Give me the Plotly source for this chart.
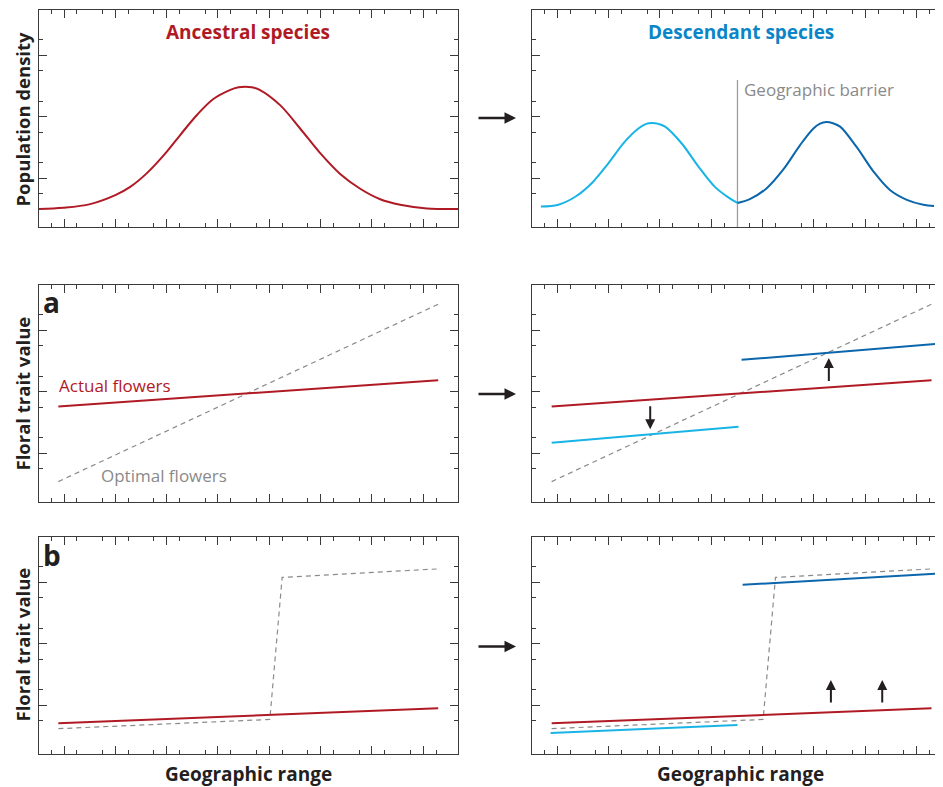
import plotly.graph_objects as go

# ---------------- data ----------------
X_MAJOR = [1, 2, 3, 4, 5, 6, 7, 8]
X_MINOR = [0.75, 1.25, 1.75, 2.25, 2.75, 3.25, 3.75, 4.25, 4.75, 5.25,
           5.75, 6.25, 6.75, 7.25, 7.75, 8.25]
Y_MAJOR = [1, 2, 3]
Y_MINOR = [0.75, 1.25, 1.75, 2.25, 2.75, 3.25]

# ancestral population density
anc_x = [0.51, 0.99, 1.51, 2.01, 2.29, 2.61, 3.0, 3.26, 3.59, 3.91, 4.23, 4.40, 4.53,
         4.66, 4.82, 5.21, 5.60, 5.99, 6.38, 6.77, 7.16, 7.55, 8.07, 8.68]
anc_y = [0.50, 0.52, 0.58, 0.73, 0.86, 1.08, 1.43, 1.70, 2.03, 2.29, 2.435, 2.48, 2.49,
         2.48, 2.435, 2.19, 1.81, 1.41, 1.07, 0.83, 0.66, 0.57, 0.51, 0.50]

# descendant population densities
desc1_x = [0.68, 1.02, 1.35, 1.67, 1.99, 2.32, 2.58, 2.72, 2.84, 2.97, 3.10, 3.42, 3.75, 4.07, 4.33, 4.51]
desc1_y = [0.54, 0.57, 0.70, 0.92, 1.24, 1.60, 1.81, 1.88, 1.90, 1.885, 1.84, 1.57, 1.19, 0.86, 0.69, 0.60]
desc2_x = [4.51, 4.75, 5.08, 5.40, 5.73, 5.99, 6.12, 6.24, 6.37, 6.51, 6.83, 7.16, 7.48, 7.81, 8.13, 8.34]
desc2_y = [0.60, 0.66, 0.84, 1.14, 1.54, 1.81, 1.89, 1.915, 1.895, 1.84, 1.51, 1.11, 0.81, 0.65, 0.57, 0.55]
barrier_x = [4.51, 4.51]
barrier_y = [0.208, 2.60]

# panel a
a_actual_x = [0.89, 8.29]
a_actual_y = [1.76, 2.19]
a_optimal_x = [0.89, 8.33]
a_optimal_y = [0.54, 3.44]
a_light_x = [0.89, 4.53]
a_light_y = [1.17, 1.43]
a_dark_x = [4.59, 8.38]
a_dark_y = [2.52, 2.78]
a_arrow_x = [2.81, 6.29]
a_arrow_from = [1.79, 2.15]
a_arrow_to = [1.39, 2.55]

# panel b
b_actual_x = [0.89, 8.29]
b_actual_y = [0.71, 0.95]
b_optimal_x = [0.89, 5.01, 5.25, 8.33]
b_optimal_y = [0.62, 0.77, 3.08, 3.22]
b_light_x = [0.87, 4.51]
b_light_y = [0.55, 0.68]
b_dark_x = [4.61, 8.39]
b_dark_y = [2.96, 3.14]
b_arrow_x = [6.33, 7.33]
b_arrow_from = [1.02, 1.02]
b_arrow_to = [1.41, 1.41]

# ---------------- styles ----------------
RED = '#b01a25'
LIGHT = '#19b4e6'
DARK = '#0b66ab'
TITLE_BLUE = '#0a85c7'
GRAY = '#8a8a8a'
AXC = '#3a3a3a'
FONT = 'Open Sans'

# page body has an 8px margin: size the figure so it ends at the window edge
OFF = 8
W, H = 943 - OFF, 787 - OFF
def px(v): return (v - OFF) / W
def py(v): return 1 - (v - OFF) / H

LEFT_DOM = [px(39), px(458)]
RIGHT_DOM = [px(532), 1.0]
ROWS = [[py(227), py(10)], [py(502), py(285)], [py(754), py(537)]]
X_RANGE_L = [0.513, 8.676]
X_RANGE_R = [0.507, 8.514]
Y_RANGE = [0.208, 3.737]

fig = go.Figure()

def axes_layout():
    lay = {}
    k = 1
    for r in range(3):
        for c in range(2):
            sx = '' if k == 1 else str(k)
            lay['xaxis' + sx] = dict(
                domain=LEFT_DOM if c == 0 else RIGHT_DOM,
                range=X_RANGE_L if c == 0 else X_RANGE_R,
                anchor='y' + sx, tickmode='array', tickvals=X_MAJOR,
                showticklabels=False, ticks='inside', ticklen=8, tickwidth=1.2,
                tickcolor=AXC,
                minor=dict(tickmode='array', tickvals=X_MINOR, ticks='inside',
                           ticklen=4, tickwidth=1.1, tickcolor=AXC, showgrid=False),
                showline=True, linecolor=AXC, linewidth=1.3, mirror='ticks',
                showgrid=False, zeroline=False, fixedrange=True)
            lay['yaxis' + sx] = dict(
                domain=ROWS[r], range=Y_RANGE, anchor='x' + sx,
                tickmode='array', tickvals=Y_MAJOR, showticklabels=False,
                ticks='inside', ticklen=8, tickwidth=1.2, tickcolor=AXC,
                minor=dict(tickmode='array', tickvals=Y_MINOR, ticks='inside',
                           ticklen=4, tickwidth=1.1, tickcolor=AXC, showgrid=False),
                showline=True, linecolor=AXC, linewidth=1.3, mirror='ticks',
                showgrid=False, zeroline=False, fixedrange=True)
            k += 1
    return lay

def line(x, y, color, axis, width=2, dash=None, shape='linear'):
    sx = '' if axis == 1 else str(axis)
    fig.add_trace(go.Scatter(
        x=x, y=y, mode='lines', xaxis='x' + sx, yaxis='y' + sx,
        line=dict(color=color, width=width, dash=dash, shape=shape, smoothing=1.0),
        hoverinfo='skip', showlegend=False))

DASH = '5px,4px'

# row 1
line(anc_x, anc_y, RED, 1, shape='spline')
line(barrier_x, barrier_y, '#9c9c9c', 2, width=1.3)
line(desc1_x, desc1_y, LIGHT, 2, shape='spline')
line(desc2_x, desc2_y, DARK, 2, shape='spline')

# row 2 (panel a)
line(a_optimal_x, a_optimal_y, GRAY, 3, width=1.2, dash=DASH)
line(a_actual_x, a_actual_y, RED, 3)
line(a_optimal_x, a_optimal_y, GRAY, 4, width=1.2, dash=DASH)
line(a_actual_x, a_actual_y, RED, 4)
line(a_light_x, a_light_y, LIGHT, 4)
line(a_dark_x, a_dark_y, DARK, 4)

# row 3 (panel b)
line(b_optimal_x, b_optimal_y, GRAY, 5, width=1.2, dash=DASH)
line(b_actual_x, b_actual_y, RED, 5)
line(b_optimal_x, b_optimal_y, GRAY, 6, width=1.2, dash=DASH)
line(b_actual_x, b_actual_y, RED, 6)
line(b_light_x, b_light_y, LIGHT, 6)
line(b_dark_x, b_dark_y, DARK, 6)

ann = []
ARROWC = '#231f20'
# in-panel arrows
for xv, y0, y1 in zip(a_arrow_x, a_arrow_from, a_arrow_to):
    ann.append(dict(x=xv, y=y1, ax=xv, ay=y0, xref='x4', yref='y4', axref='x4', ayref='y4',
                    showarrow=True, arrowhead=2, arrowsize=1.0, arrowwidth=2.0,
                    arrowcolor=ARROWC, text=''))
for xv, y0, y1 in zip(b_arrow_x, b_arrow_from, b_arrow_to):
    ann.append(dict(x=xv, y=y1, ax=xv, ay=y0, xref='x6', yref='y6', axref='x6', ayref='y6',
                    showarrow=True, arrowhead=2, arrowsize=1.0, arrowwidth=2.0,
                    arrowcolor=ARROWC, text=''))
# between-column arrows
for yy in [118, 394, 646.5]:
    ann.append(dict(x=px(516), y=py(yy), xref='paper', yref='paper', ax=-39, ay=0,
                    showarrow=True, arrowhead=2, arrowsize=1.0, arrowwidth=2.3,
                    arrowcolor=ARROWC, text=''))

def text(t, x, y, size, color='#231f20', xanchor='center', angle=0, xref='paper', yref='paper'):
    ann.append(dict(text=t, x=x, y=y, xref=xref, yref=yref, showarrow=False,
                    xanchor=xanchor, yanchor='middle', textangle=angle,
                    font=dict(family=FONT, size=size, color=color)))

text('<b>Ancestral species</b>', px(248), py(32), 19, RED)
text('<b>Descendant species</b>', px(741), py(32), 19, TITLE_BLUE)
text('Geographic barrier', 4.60, 2.45, 17, GRAY, xanchor='left', xref='x2', yref='y2')
text('Actual flowers', 0.86, 2.11, 17, RED, xanchor='left', xref='x3', yref='y3')
text('Optimal flowers', 1.68, 0.64, 17, GRAY, xanchor='left', xref='x3', yref='y3')
text('<b>Population density</b>', px(21.5), py(119), 18.5, angle=-90)
text('<b>Floral trait value</b>', px(21.5), py(394), 18.5, angle=-90)
text('<b>Floral trait value</b>', px(21.5), py(645), 18.5, angle=-90)
text('<b>Geographic range</b>', px(248), py(773.5), 19)
text('<b>Geographic range</b>', px(740), py(773.5), 19)
text('<b>a</b>', px(41), py(302), 28, xanchor='left')
text('<b>b</b>', px(41), py(555), 28, xanchor='left')

layout = axes_layout()
fig.update_layout(width=W, height=H, margin=dict(l=0, r=0, t=0, b=0),
                  paper_bgcolor='white', plot_bgcolor='white',
                  showlegend=False, annotations=ann, **layout)

fig.write_html('out.html')
